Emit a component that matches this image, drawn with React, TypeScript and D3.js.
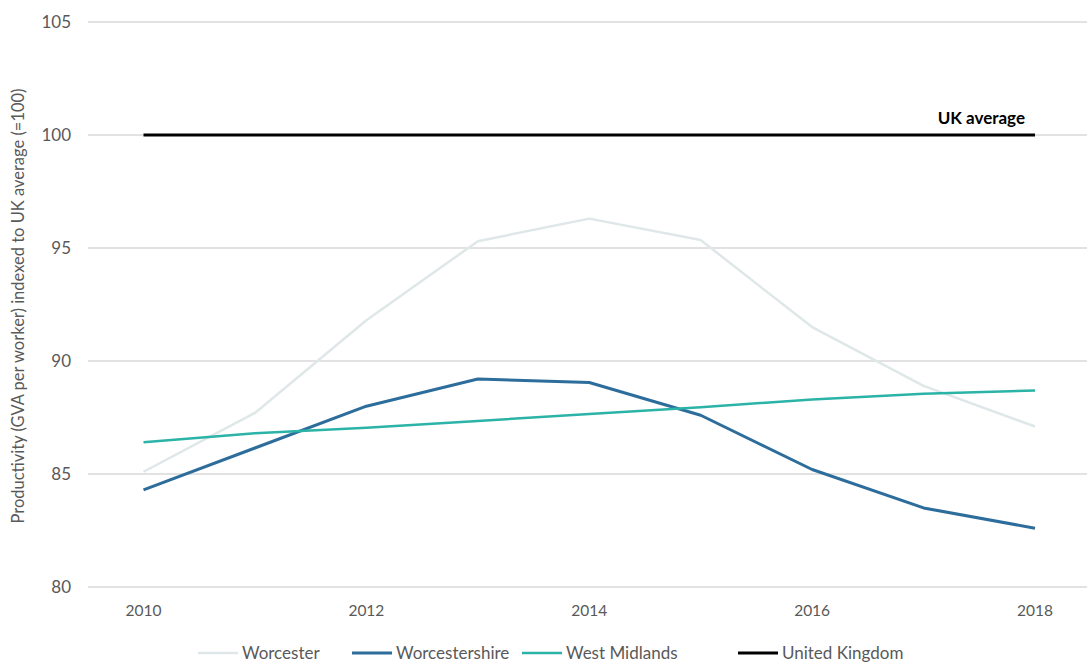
import React from "react";
import * as d3 from "d3";

const years = [2010, 2011, 2012, 2013, 2014, 2015, 2016, 2017, 2018];
const worcester = [85.1, 87.7, 91.8, 95.3, 96.3, 95.35, 91.5, 88.9, 87.1];
const worcestershire = [84.3, 86.15, 88.0, 89.2, 89.05, 87.6, 85.2, 83.5, 82.6];
const westMidlands = [86.4, 86.8, 87.05, 87.35, 87.65, 87.95, 88.3, 88.55, 88.7];
const unitedKingdom = [100, 100, 100, 100, 100, 100, 100, 100, 100];
const yTicks = [80, 85, 90, 95, 100, 105];
const xTickYears = [2010, 2012, 2014, 2016, 2018];

const seriesNames = ["Worcester", "Worcestershire", "West Midlands", "United Kingdom"];
const seriesValues = [worcester, worcestershire, westMidlands, unitedKingdom];
const seriesColors = ["#dfe7e9", "#2d6d9c", "#2bb3a7", "#000000"];
const seriesWidths = [2.5, 3, 2.5, 3];

const W = 1087;
const H = 662;
const FONT = "Lato, 'Open Sans', sans-serif";

export default function App() {
  const x = d3.scalePoint<number>().domain(years).range([143.5, 1035]);
  const y = d3.scaleLinear().domain([80, 105]).range([587, 22]);
  const line = d3
    .line<number>()
    .x((_, i) => x(years[i]) as number)
    .y((d) => y(d));

  const legendX = [198, 352, 522, 738];

  return (
    <svg
      width={W}
      height={H}
      style={{ position: "absolute", left: 0, top: 0, background: "#fff" }}
      fontFamily={FONT}
    >
      {yTicks.map((t) => (
        <g key={t}>
          <line x1={88} x2={W} y1={y(t)} y2={y(t)} stroke="#d9d9d9" strokeWidth={1.5} />
          <text x={71} y={y(t)} dy="0.36em" textAnchor="end" fontSize={17} fill="#595959">
            {t}
          </text>
        </g>
      ))}
      {xTickYears.map((yr) => (
        <text key={yr} x={x(yr)} y={616} textAnchor="middle" fontSize={15.5} fill="#595959">
          {yr}
        </text>
      ))}
      <text
        transform={`translate(24,${306}) rotate(-90)`}
        textAnchor="middle"
        fontSize={16.5}
        fill="#595959"
      >
        Productivity (GVA per worker) indexed to UK average (=100)
      </text>
      {seriesValues.map((vals, i) => (
        <path
          key={seriesNames[i]}
          d={line(vals) || ""}
          fill="none"
          stroke={seriesColors[i]}
          strokeWidth={seriesWidths[i]}
          strokeLinejoin="round"
        />
      ))}
      <text x={1025} y={124} textAnchor="end" fontSize={17} fontWeight="bold" fill="#000">
        UK average
      </text>
      {seriesNames.map((n, i) => (
        <g key={n}>
          <line
            x1={legendX[i]}
            x2={legendX[i] + 40}
            y1={653}
            y2={653}
            stroke={seriesColors[i]}
            strokeWidth={seriesWidths[i]}
          />
          <text x={legendX[i] + 44} y={653} dy="0.35em" fontSize={17} fill="#595959">
            {n}
          </text>
        </g>
      ))}
    </svg>
  );
}
